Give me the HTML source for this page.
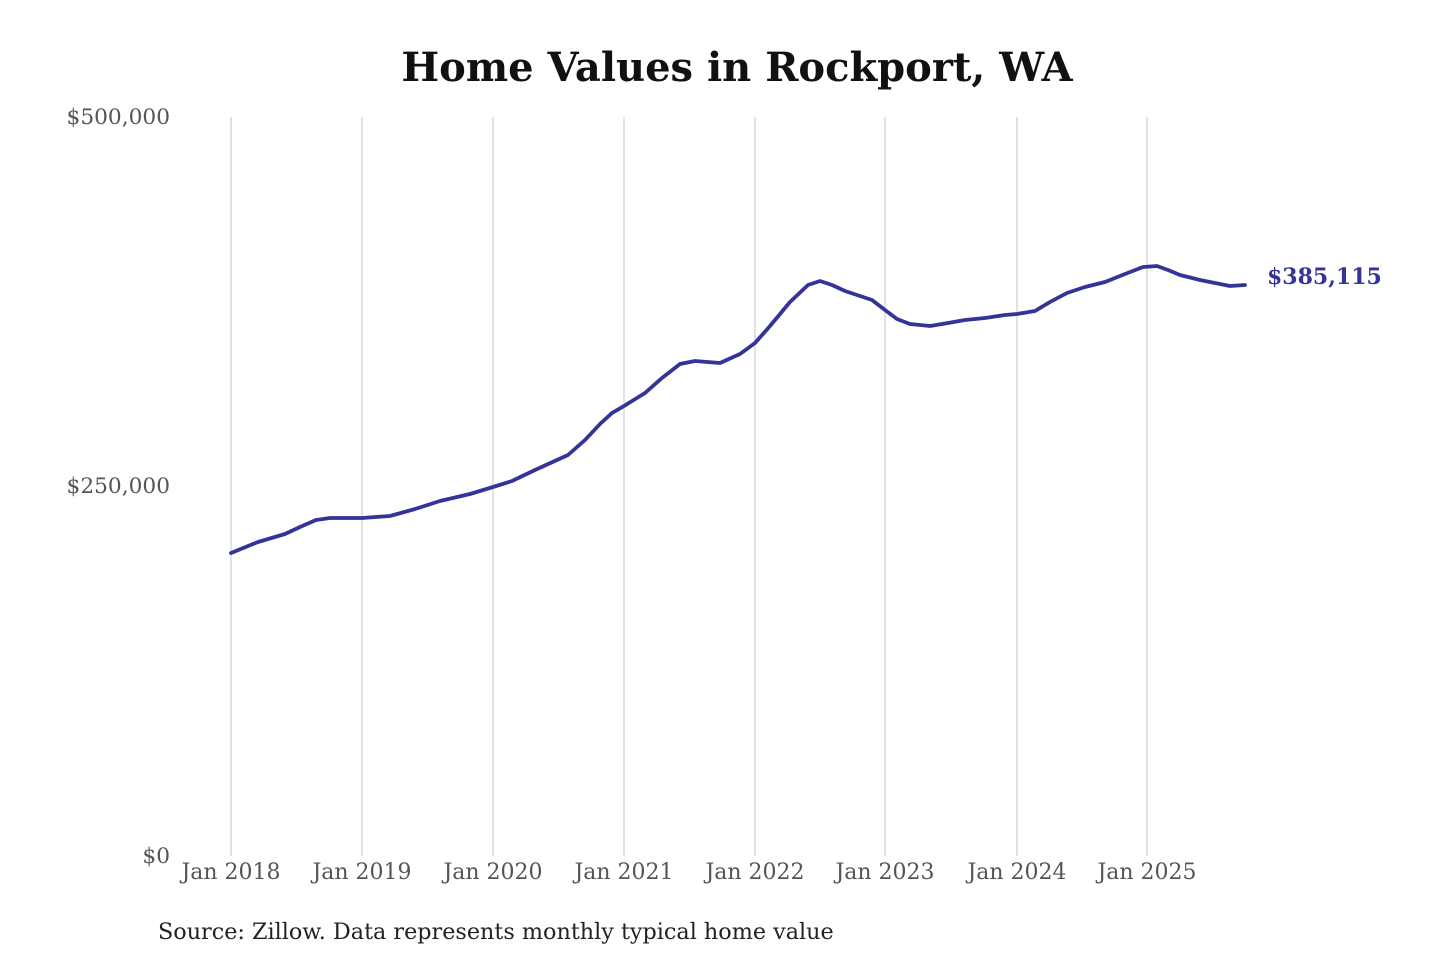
<!DOCTYPE html>
<html><head><meta charset="utf-8"><style>
html,body{margin:0;padding:0;background:#fff;width:1440px;height:960px;overflow:hidden}
svg{display:block}
text{font-family:"DejaVu Serif","Liberation Serif",serif}
</style></head><body>
<svg width="1440" height="960" viewBox="0 0 1440 960" xmlns="http://www.w3.org/2000/svg">
<text x="737" y="81" text-anchor="middle" font-size="40" font-weight="bold" fill="#111">Home Values in Rockport, WA</text>
<g stroke="#c4c4c4" stroke-width="1">
<line x1="231" y1="117" x2="231" y2="856"/>
<line x1="362" y1="117" x2="362" y2="856"/>
<line x1="493" y1="117" x2="493" y2="856"/>
<line x1="624" y1="117" x2="624" y2="856"/>
<line x1="755" y1="117" x2="755" y2="856"/>
<line x1="885" y1="117" x2="885" y2="856"/>
<line x1="1017" y1="117" x2="1017" y2="856"/>
<line x1="1147" y1="117" x2="1147" y2="856"/>
</g>
<g font-size="21.7" fill="#555" text-anchor="end">
<text x="170" y="124">$500,000</text>
<text x="170" y="493">$250,000</text>
<text x="170" y="863">$0</text>
</g>
<g font-size="22" fill="#555" text-anchor="middle">
<text x="231" y="879">Jan 2018</text>
<text x="362" y="879">Jan 2019</text>
<text x="493" y="879">Jan 2020</text>
<text x="624" y="879">Jan 2021</text>
<text x="755" y="879">Jan 2022</text>
<text x="885" y="879">Jan 2023</text>
<text x="1017" y="879">Jan 2024</text>
<text x="1147" y="879">Jan 2025</text>
</g>
<polyline fill="none" stroke="#33339a" stroke-width="3.8" stroke-linejoin="round" stroke-linecap="round" points="231,553 258,542 285,534 300,527 316,520 330,518 362,518 390,516 415,509 440,501 470,494 493,487 512,481 535,470 568,455 585,440 600,424 612,413 624,406 645,393 662,378 680,364 695,361 720,363 740,354 755,343 770,326 790,302 808,285 820,281 832,285 845,291 872,300 885,310 897,319 910,324 930,326 948,323 965,320 985,318 1005,315 1017,314 1035,311 1050,302 1067,293 1085,287 1105,282 1125,274 1143,267 1157,266 1168,270 1180,275 1200,280 1215,283 1230,286 1245,285"/>
<text x="1267" y="284" font-size="22" font-weight="bold" fill="#33339a">$385,115</text>
<text x="158" y="939" font-size="22.3" fill="#222">Source: Zillow. Data represents monthly typical home value</text>
</svg>
</body></html>
